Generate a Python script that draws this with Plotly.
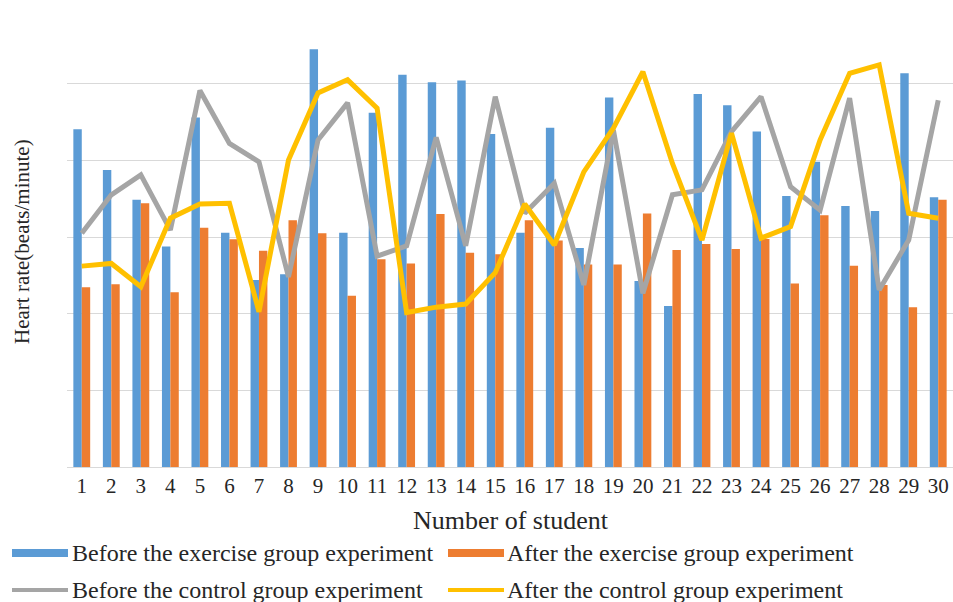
import plotly.graph_objects as go

# Heart rate of 30 students, before/after the exercise and control experiments
students = list(range(1, 31))
student_labels = [str(s) for s in students]

before_exercise = [88.1, 77.5, 69.7, 57.5, 91.2, 61.1, 48.8, 50.3, 109.0, 61.1,
                   92.4, 102.3, 100.4, 100.8, 86.9, 61.1, 88.5, 57.1, 96.4, 48.5,
                   42.0, 97.3, 94.4, 87.5, 70.7, 79.6, 68.1, 66.8, 102.7, 70.4]
after_exercise = [46.9, 47.7, 68.8, 45.6, 62.4, 59.4, 56.4, 64.4, 61.0, 44.7,
                  54.2, 53.1, 66.0, 55.9, 55.5, 64.4, 59.1, 52.8, 52.8, 66.1,
                  56.6, 58.2, 56.9, 59.5, 47.9, 65.7, 52.5, 47.5, 41.7, 69.7]
before_control = [61.0, 71.0, 76.2, 61.8, 98.2, 84.4, 79.6, 49.6, 85.3, 95.0,
                  55.0, 57.7, 86.0, 57.7, 96.6, 66.2, 74.0, 47.5, 87.9, 45.3,
                  71.0, 72.3, 87.5, 96.6, 73.1, 67.0, 96.2, 46.2, 59.2, 95.7]
after_control = [52.4, 53.1, 47.0, 64.9, 68.6, 68.8, 40.5, 80.1, 97.6, 101.0,
                 93.6, 40.3, 41.7, 42.5, 50.7, 68.6, 57.9, 77.0, 88.4, 103.1,
                 79.2, 59.2, 87.1, 59.7, 62.7, 85.3, 102.7, 104.9, 66.2, 64.9]

series_names = ["Before the exercise group experiment",
                "After the exercise group experiment",
                "Before the control group experiment",
                "After the control group experiment"]
colors = ["#5B9BD5", "#ED7D31", "#A5A5A5", "#FFC000"]

W, H = 953, 602
L, R, T, B = 67, 0, 7, 135
FONT = "Liberation Serif, Times New Roman, serif"
TXT = "#262626"


def px(x):
    return (x - L) / (W - L - R)


def py(y):
    return (H - B - y) / (H - T - B)


fig = go.Figure()
fig.add_trace(go.Bar(x=students, y=before_exercise, name=series_names[0],
                     marker=dict(color=colors[0], line=dict(width=0))))
fig.add_trace(go.Bar(x=students, y=after_exercise, name=series_names[1],
                     marker=dict(color=colors[1], line=dict(width=0))))
fig.add_trace(go.Scatter(x=students, y=before_control, name=series_names[2],
                         mode="lines", line=dict(color=colors[2], width=5)))
fig.add_trace(go.Scatter(x=students, y=after_control, name=series_names[3],
                         mode="lines", line=dict(color=colors[3], width=5)))

# Legend drawn as swatches + text beneath the axis
shapes = []
annotations = []
legend_rows = [(553, 0, 12, 70), (553, 1, 448, 505),
               (590, 2, 12, 70), (590, 3, 448, 505)]
for yc, i, sx, tx in legend_rows:
    if i < 2:
        shapes.append(dict(type="rect", xref="paper", yref="paper",
                           x0=px(sx), x1=px(sx + 56), y0=py(yc + 4), y1=py(yc - 4),
                           fillcolor=colors[i], line=dict(width=0)))
    else:
        shapes.append(dict(type="line", xref="paper", yref="paper",
                           x0=px(sx), x1=px(sx + 56), y0=py(yc), y1=py(yc),
                           line=dict(color=colors[i], width=4)))
    annotations.append(dict(text=series_names[i], xref="paper", yref="paper",
                            x=px(tx), y=py(yc), xanchor="left", yanchor="middle",
                            showarrow=False, font=dict(family=FONT, size=24, color=TXT)))

annotations.append(dict(text="Number of student", xref="paper", yref="paper",
                        x=px(511), y=py(520), xanchor="center", yanchor="middle",
                        showarrow=False, font=dict(family=FONT, size=26, color=TXT)))
annotations.append(dict(text="Heart rate(beats/minute)", xref="paper", yref="paper",
                        x=px(22), y=py(242), xanchor="center", yanchor="middle",
                        textangle=-90, showarrow=False,
                        font=dict(family=FONT, size=21, color=TXT)))

fig.update_layout(
    width=W, height=H,
    margin=dict(l=L, r=R, t=T, b=B),
    paper_bgcolor="white", plot_bgcolor="white",
    barmode="group", bargap=0.43, bargroupgap=0,
    showlegend=False,
    shapes=shapes, annotations=annotations,
    font=dict(family=FONT, color=TXT),
)
fig.update_xaxes(range=[0.5, 30.5], tickmode="array", tickvals=students,
                 ticktext=student_labels, tickfont=dict(family=FONT, size=21, color=TXT),
                 ticklabelstandoff=4,
                 showgrid=False, zeroline=False, showline=False, ticks="", ticklen=0)
fig.update_yaxes(range=[0, 120], dtick=20, showticklabels=False, showgrid=True,
                 gridcolor="#D9D9D9", gridwidth=1, zeroline=True,
                 zerolinecolor="#D9D9D9", zerolinewidth=1, showline=False)

fig.write_html("out.html")
